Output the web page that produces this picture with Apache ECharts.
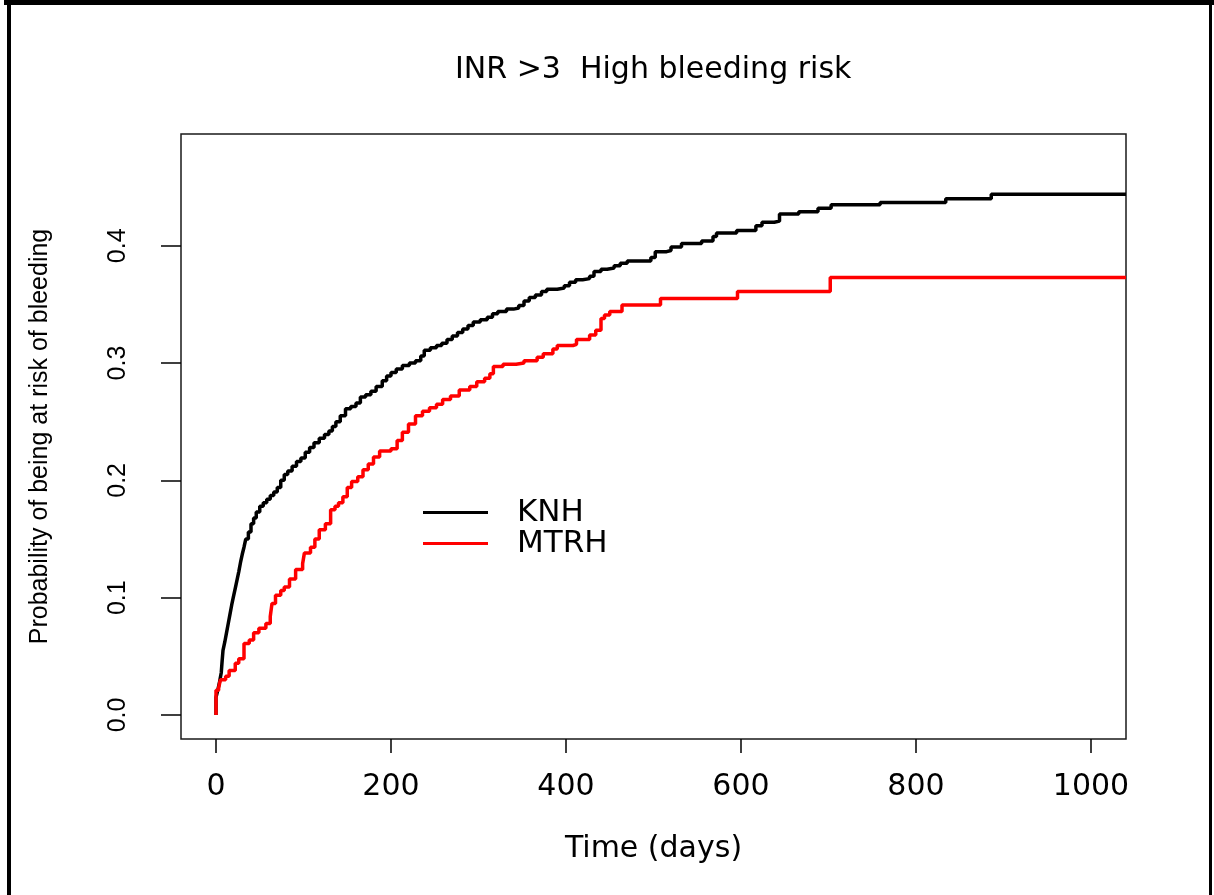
<!DOCTYPE html>
<html><head><meta charset="utf-8">
<script src="https://cdn.jsdelivr.net/npm/echarts@6/dist/echarts.min.js"></script>
<style>html,body{margin:0;padding:0;background:#fff}#c{width:1214px;height:895px}</style>
</head><body><div id="c"></div>
<script>
// ---- data ----
const chartTitle = 'INR >3  High bleeding risk';
const xName = 'Time (days)';
const yName = 'Probability of being at risk of bleeding';
const xTicks = [0, 200, 400, 600, 800, 1000];
const yTicks = [0, 0.1, 0.2, 0.3, 0.4];
const seriesNames = ['KNH', 'MTRH'];

const knhTime = [0,0,2,4,6,7,8,10,12,14,16,18,20,22,24,26,28,30,32,34,37,40,43,46,50,54,58,62,66,70,74,78,82,87,92,97,102,107,112,118,124,129,133,137,142,148,154,160,165,171,177,183,190,195,200,206,213,221,228,234,238,245,252,258,264,270,276,282,288,294,302,310,316,322,332,340,346,352,358,365,372,378,390,398,404,411,419,427,432,440,447,455,462,470,497,502,515,520,532,555,568,572,595,617,624,638,644,666,688,703,759,834,886,1040];
const knhProb = [0,0.015,0.021,0.028,0.036,0.046,0.055,0.062,0.070,0.078,0.086,0.094,0.101,0.108,0.115,0.122,0.130,0.137,0.143,0.150,0.156,0.163,0.168,0.173,0.178,0.181,0.184,0.187,0.190,0.194,0.200,0.205,0.208,0.212,0.216,0.219,0.224,0.228,0.232,0.236,0.239,0.242,0.246,0.250,0.255,0.261,0.263,0.266,0.271,0.273,0.276,0.280,0.285,0.289,0.292,0.295,0.298,0.300,0.302,0.306,0.311,0.313,0.315,0.317,0.320,0.323,0.326,0.329,0.332,0.335,0.337,0.339,0.342,0.344,0.346,0.347,0.349,0.353,0.356,0.358,0.361,0.363,0.364,0.366,0.369,0.371,0.372,0.374,0.378,0.380,0.381,0.383,0.385,0.387,0.390,0.395,0.396,0.399,0.402,0.404,0.408,0.411,0.413,0.417,0.420,0.421,0.427,0.429,0.432,0.435,0.437,0.440,0.444,0.444];

const mtrhTime = [0,0,3,5,11,15,22,26,32,38,43,49,57,62,64,68,74,78,84,91,99,101,108,113,118,125,131,136,140,145,150,155,162,168,174,180,187,200,207,213,220,228,236,244,252,259,268,278,290,298,307,313,317,328,343,352,367,374,385,390,408,412,427,434,440,444,450,464,508,596,702,1040];
const mtrhProb = [0,0.021,0.023,0.030,0.033,0.038,0.044,0.048,0.061,0.064,0.070,0.074,0.078,0.084,0.095,0.102,0.106,0.109,0.116,0.124,0.129,0.138,0.143,0.150,0.158,0.163,0.175,0.178,0.181,0.186,0.194,0.199,0.203,0.209,0.214,0.220,0.225,0.227,0.234,0.241,0.248,0.255,0.259,0.262,0.265,0.269,0.272,0.277,0.280,0.284,0.287,0.291,0.297,0.299,0.300,0.302,0.305,0.308,0.312,0.315,0.316,0.320,0.324,0.328,0.338,0.341,0.344,0.3495,0.355,0.361,0.373,0.373];

// ---- chart ----
const H = 'DejaVu Sans';
const V = 'Liberation Sans';
const chart = echarts.init(document.getElementById('c'), null, {renderer: 'canvas'});
const pairs = (t, p) => t.map((v, i) => [v, p[i]]);

chart.setOption({
  animation: false,
  backgroundColor: '#fff',
  grid: {left: 181, right: 88, top: 134, bottom: 156, show: true, borderColor: '#1a1a1a', borderWidth: 1.5, backgroundColor: 'transparent'},
  xAxis: {
    type: 'value', min: -40, max: 1040,
    splitLine: {show: false}, axisLine: {show: false, onZero: false},
    axisTick: {show: true, customValues: xTicks, length: 14, lineStyle: {color: '#000', width: 1.5}},
    axisLabel: {customValues: xTicks, margin: 33, fontFamily: H, fontSize: 30, color: '#000',
      formatter: v => String(v)},
    name: xName, nameLocation: 'middle', nameGap: 95,
    nameTextStyle: {fontFamily: H, fontSize: 30, color: '#000'}
  },
  yAxis: {
    type: 'value', min: -0.0205, max: 0.4953,
    splitLine: {show: false}, axisLine: {show: false, onZero: false},
    axisTick: {show: true, customValues: yTicks, length: 20, lineStyle: {color: '#000', width: 1.5}},
    axisLabel: {customValues: yTicks, rotate: 90, margin: 50, fontFamily: V, fontSize: 25, color: '#000',
      formatter: v => Number(v).toFixed(1)},
    name: yName, nameLocation: 'middle', nameRotate: 90, nameGap: 128,
    nameTextStyle: {fontFamily: V, fontSize: 25, color: '#000'}
  },
  legend: {
    orient: 'vertical', left: 423, top: 497, padding: 0, itemWidth: 65, itemHeight: 3, itemGap: 0, icon: 'rect',
    data: seriesNames,
    textStyle: {fontFamily: H, fontSize: 31, lineHeight: 30, color: '#000', padding: [0, 0, 0, 24]}
  },
  series: [
    {name: seriesNames[0], type: 'line', step: 'end', data: pairs(knhTime, knhProb), showSymbol: false, symbol: 'none',
     color: '#000', lineStyle: {color: '#000', width: 3.5}, z: 2},
    {name: seriesNames[1], type: 'line', step: 'end', data: pairs(mtrhTime, mtrhProb), showSymbol: false, symbol: 'none',
     color: '#ff0000', lineStyle: {color: '#ff0000', width: 3.5}, z: 3}
  ],
  graphic: [
    {type: 'text', left: 653 - 198, top: 55, style: {text: chartTitle, fontFamily: H, fontSize: 30, fill: '#000'}},
    {type: 'rect', shape: {x: 4, y: 0, width: 1210, height: 5}, style: {fill: '#000'}},
    {type: 'rect', shape: {x: 7, y: 0, width: 4, height: 895}, style: {fill: '#000'}},
    {type: 'rect', shape: {x: 1209, y: 0, width: 3, height: 895}, style: {fill: '#000'}}
  ]
});
</script></body></html>
